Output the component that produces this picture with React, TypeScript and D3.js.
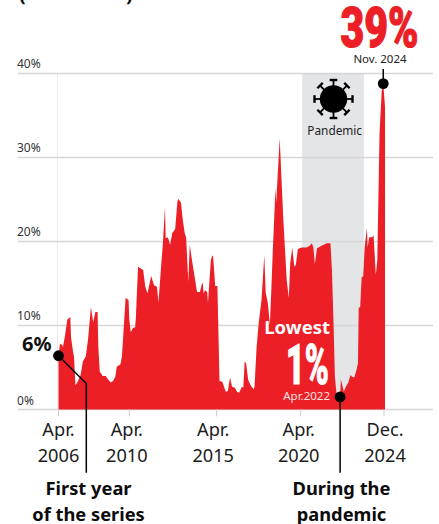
import React from "react";
import * as d3 from "d3";

// Months elapsed since Apr. 2006 and the rate read at that month (%)
const months = [0,1,2.5,3,4.5,6,8,8.5,10,10.5,11.5,13,15,16.5,18.5,20,22,23.5,25,26.5,27,28,30,32,33.5,35.5,37,38.5,39.5,42,43,44,45.5,47.5,48,
  49,50.5,52,52.5,54,57.5,59,60.5,63,65,67,68,70,71,72.5,73,74.5,76,77.5,79.5,81,81.5,83.5,84.5,86,87,88.5,89.5,91,92.5,94.5,96.5,98,98.5,99,100,101.5,102,104,105,105.5,107,
  108.5,110,112,114.5,116,117.5,119,121,122.5,124,126,127,128,129,130.5,132.5,134.5,135,136.5,138,140,142,143,144.5,146,147,148,150,150.5,153,154,155.5,158,159.5,160.5,162,162.5,163.5,164.5,166,
  168.5,172,174,175.5,176.5,177.5,179,182,185.5,188,189,190,191,192,194.5,195,197,198,200,201.5,202.5,204,205.5,206.5,207,208,209,210,211,212.5,213,214,216,217,218.5,219.5,221,222.5,223.5,224.7];
const rates = [6.4,7.8,7.7,7.4,8.9,10.7,11,8.6,6.7,6.3,2.9,3.3,4.1,5.7,6.3,8.3,12.2,10.4,11.6,11.6,7.4,4.5,4,4,3.6,3.2,3.4,3.9,5.1,5.4,6.3,9.1,13.3,13,10.7,
  9.2,9.7,9.8,10.9,17,16.6,14.6,13.8,15.9,14.8,14.6,12.7,17.4,19.6,24.1,20.4,20.5,19.6,21,21.5,24.7,25.1,24.6,22.9,21,20.5,15.2,19.6,17.8,16.2,14,14,15.1,14.9,13.8,14.2,14,12.7,17.8,18.3,18.3,14.7,
  14.7,3.4,3.3,2.1,2.2,3.8,2.7,2.6,2.1,2,2.7,2.6,5.7,5.5,3.5,2.8,2.4,2.7,7.4,10.3,13,18.4,13.9,12.7,10.1,14.2,18.6,26.4,24.6,32.3,28.5,22.9,15.4,13.3,17.4,19.3,18.4,17,17.2,19.1,
  19.3,19.3,19.5,19.8,19.3,17.3,19.2,19.5,19.8,19.8,16.6,10.7,3.9,2,1.5,3.6,2.1,2.6,3.2,4.1,3.9,3.8,4.7,5.5,12.1,12.2,15.8,15.8,19.3,21.6,19.3,20.5,20.5,20.7,16,17.8,32.9,38,38.8,36];

const yTicks = [0, 10, 20, 30, 40];
const xTickMonths = [0, 48, 108, 168, 224];
const xTickLabels = [["Apr.", "2006"], ["Apr.", "2010"], ["Apr.", "2015"], ["Apr.", "2020"], ["Dec.", "2024"]];
const labelNudge = [0, -2.5, -3.5, -2, 1];
const pandemicSpan = [169, 210.5];

const FONT = "'Noto Sans', sans-serif";
const RED = "#ec1f27";
const INK = "#1c1c1c";

const x = d3.scaleLinear().domain(xTickMonths).range([58.5, 129.3, 216.7, 300.7, 384]);
const y = d3.scaleLinear().domain([0, 40]).range([409.5, 73.5]);

const points = months.map((m, i) => [m, rates[i]] as [number, number]);
const area = d3.area<[number, number]>().x(d => x(d[0])).y0(y(0)).y1(d => y(d[1]));

const at = (m: number) => points.find(p => p[0] === m)!;
const first = at(0);
const lowest = at(194.5);
const peak = at(223.5);

const spikeAngles = d3.range(8).map(i => i * 45);

function Virus({ cx, cy }: { cx: number; cy: number }) {
  return (
    <g transform={`translate(${cx},${cy})`} fill="#000" stroke="#000">
      <circle r={13.7} stroke="none" />
      {spikeAngles.map(a => (
        <g key={a} transform={`rotate(${a})`}>
          <line x1={0} x2={0} y1={-12} y2={-19} strokeWidth={1.8} />
          <line x1={-3.8} x2={3.8} y1={-19} y2={-19} strokeWidth={2.4} />
        </g>
      ))}
    </g>
  );
}

export default function App() {
  return (
    <svg width={439} height={524} viewBox="0 0 439 524" fontFamily={FONT}
      style={{ position: "absolute", left: 0, top: 0, display: "block" }}>
      <rect width={439} height={524} fill="#fff" />

      <text x={19} y={1} fontSize={20} fontWeight={700} fill="#111">(</text>
      <text x={126} y={1} fontSize={20} fontWeight={700} fill="#111">)</text>

      <rect x={x(pandemicSpan[0])} width={x(pandemicSpan[1]) - x(pandemicSpan[0])} y={y(40)} height={y(0) - y(40)} fill="#e4e5e7" />

      <line x1={57.5} x2={57.5} y1={y(40)} y2={y(0)} stroke="#ececec" strokeWidth={1} />
      {yTicks.map(t => (
        <g key={t}>
          <line x1={18} x2={433} y1={y(t)} y2={y(t)} stroke="#d6d6d6" strokeWidth={1.4} />
          <text x={17} y={y(t) - (t === 0 ? 4.5 : 6)} fontSize={12} fill="#333">{t}%</text>
        </g>
      ))}

      <path d={area(points)!} fill={RED} />

      {xTickMonths.map((m, i) => (
        <g key={m}>
          <line x1={x(m)} x2={x(m)} y1={y(0)} y2={y(0) + 7} stroke="#cfcfcf" strokeWidth={1} />
          <text x={x(m) + labelNudge[i]} textAnchor="middle" fontSize={18.2} fill={INK}>
            <tspan x={x(m) + labelNudge[i]} y={436}>{xTickLabels[i][0]}</tspan>
            <tspan x={x(m) + labelNudge[i]} y={461.5}>{xTickLabels[i][1]}</tspan>
          </text>
        </g>
      ))}

      <Virus cx={333.5} cy={99} />
      <text x={334.7} y={135.3} textAnchor="middle" fontSize={11.8} fill="#222">Pandemic</text>

      <text x={340.5} y={47} fontFamily="Roboto, sans-serif" fontSize={55} fontWeight={900} fill={RED}
        stroke={RED} strokeWidth={1.2} textLength={78} lengthAdjust="spacingAndGlyphs">39%</text>
      <text x={380} y={63} textAnchor="middle" fontSize={11.5} fill="#222">Nov. 2024</text>
      <line x1={x(peak[0])} x2={x(peak[0])} y1={69} y2={y(peak[1])} stroke="#000" strokeWidth={1.5} />
      <circle cx={x(peak[0])} cy={y(peak[1])} r={5.4} fill="#000" />

      <text x={22} y={351} fontSize={20} fontWeight={700} fill="#111">6%</text>
      <polyline points={`${x(first[0])},${y(first[1])} 86.3,383.5 86.3,472.7`} fill="none" stroke="#000" strokeWidth={1.5} />
      <circle cx={x(first[0])} cy={y(first[1])} r={5.4} fill="#000" />

      <text x={330} y={334} textAnchor="end" fontSize={18.5} fontWeight={700} fill="#fff">Lowest</text>
      <text x={286} y={384} fontFamily="Roboto, sans-serif" fontSize={55} fontWeight={900} fill="#fff"
        stroke="#fff" strokeWidth={1} textLength={43} lengthAdjust="spacingAndGlyphs">1%</text>
      <text x={330} y={400} textAnchor="end" fontSize={11.5} fill="#fde0e0">Apr.2022</text>
      <line x1={x(lowest[0])} x2={x(lowest[0])} y1={y(lowest[1])} y2={472.7} stroke="#000" strokeWidth={1.5} />
      <circle cx={x(lowest[0])} cy={y(lowest[1])} r={5.4} fill="#000" />

      <text textAnchor="middle" fontSize={18.3} fontWeight={700} fill="#0c0c0c">
        <tspan x={88.5} y={495}>First year</tspan>
        <tspan x={88.5} y={520.5}>of the series</tspan>
      </text>
      <text textAnchor="middle" fontSize={18.3} fontWeight={700} fill="#0c0c0c">
        <tspan x={341.5} y={495}>During the</tspan>
        <tspan x={341.5} y={520.5}>pandemic</tspan>
      </text>
    </svg>
  );
}
